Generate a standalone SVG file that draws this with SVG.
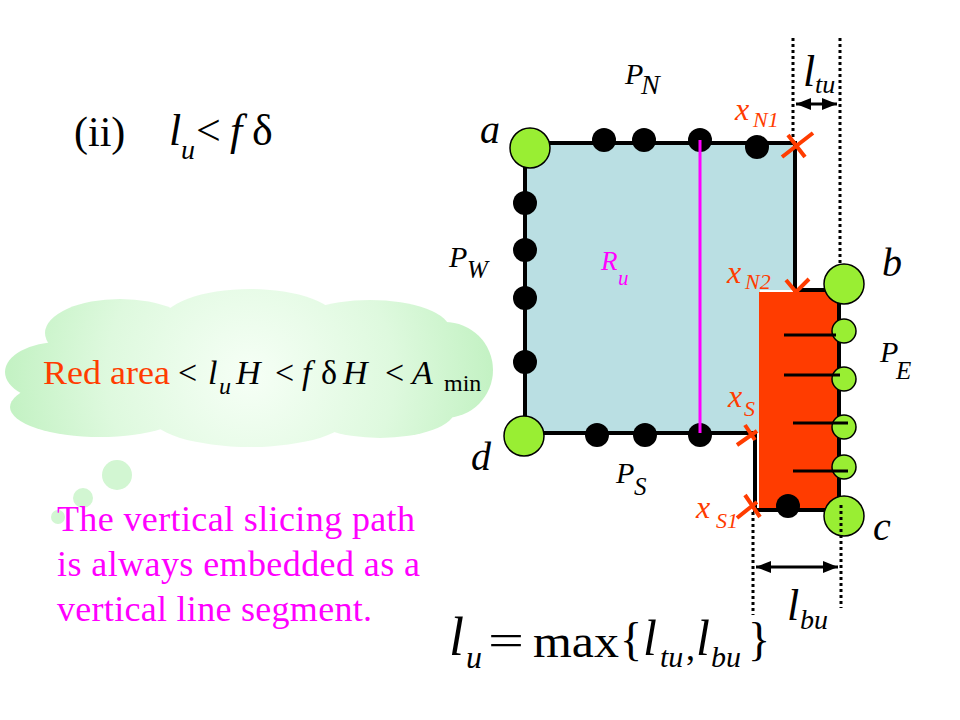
<svg xmlns="http://www.w3.org/2000/svg" width="960" height="720" viewBox="0 0 960 720">
<defs>
<radialGradient id="cloudG" gradientUnits="userSpaceOnUse" cx="250" cy="375" r="240">
<stop offset="0" stop-color="#f6fff6"/>
<stop offset="0.6" stop-color="#def9de"/>
<stop offset="1" stop-color="#c4f2c4"/>
</radialGradient>
<marker id="ah" viewBox="0 0 10 10" refX="10" refY="5" markerWidth="5" markerHeight="5" orient="auto-start-reverse">
<path d="M0,1 L10,5 L0,9 Z" fill="#000"/>
</marker>
<style>
.t{font-family:"Liberation Serif","Times New Roman",serif;fill:#000}
.i{font-style:italic}
.red{fill:#ff3c00}
.mag{fill:#ff00ff}
.dot{fill:#000}
.grn{fill:#99ee33;stroke:#000;stroke-width:1.5}
.dash{stroke:#000;stroke-width:3;stroke-dasharray:3 3;fill:none}
.cross{stroke:#ff3c00;stroke-width:4;fill:none}
.bar{stroke:#000;stroke-width:3}
</style>
</defs>
<rect width="960" height="720" fill="#fff"/>

<g id="title">
<text class="t" x="74" y="146" font-size="42">(ii)</text>
<text class="t i" x="169" y="145" font-size="44">l</text>
<text class="t i" x="181" y="159" font-size="28">u</text>
<text class="t" x="196" y="145" font-size="44">&lt;</text>
<text class="t i" x="230" y="145" font-size="44">f</text>
<text class="t" x="252" y="145" font-size="44">δ</text>
</g>

<g id="cloud">
<g fill="url(#cloudG)">
<ellipse cx="120" cy="333" rx="75" ry="34"/>
<ellipse cx="250" cy="322" rx="88" ry="33"/>
<ellipse cx="370" cy="330" rx="80" ry="30"/>
<ellipse cx="445" cy="370" rx="48" ry="48"/>
<ellipse cx="60" cy="372" rx="55" ry="30"/>
<ellipse cx="100" cy="407" rx="90" ry="30"/>
<ellipse cx="250" cy="415" rx="100" ry="32"/>
<ellipse cx="380" cy="410" rx="75" ry="28"/>
<ellipse cx="250" cy="370" rx="200" ry="52"/>
</g>
<circle cx="117" cy="475" r="15" fill="#d2f6d2"/>
<circle cx="83" cy="498" r="10" fill="#d2f6d2"/>
<circle cx="58" cy="517" r="7" fill="#d2f6d2"/>
<text class="t" font-size="34" y="384"><tspan x="43" class="red" textLength="127" lengthAdjust="spacingAndGlyphs">Red area</tspan><tspan x="178">&lt;</tspan><tspan x="208" class="i">l</tspan><tspan x="219" y="394" font-size="24" class="i">u</tspan><tspan x="236" y="384" class="i">H</tspan><tspan x="275">&lt;</tspan><tspan x="302" class="i">f</tspan><tspan x="321">δ</tspan><tspan x="343" class="i">H</tspan><tspan x="385">&lt;</tspan><tspan x="412" class="i">A</tspan><tspan x="444" y="391" font-size="24">min</tspan></text>
</g>

<g id="note">
<text class="t mag" x="57" y="531" font-size="36" textLength="358" lengthAdjust="spacing">The vertical slicing path</text>
<text class="t mag" x="57" y="576" font-size="36" textLength="363" lengthAdjust="spacing">is always embedded as a</text>
<text class="t mag" x="57" y="621" font-size="36" textLength="315" lengthAdjust="spacing">vertical line segment.</text>
</g>

<g id="formula">
<text class="t i" x="449" y="655" font-size="54">l</text>
<text class="t i" x="466" y="668" font-size="32">u</text>
<text class="t" x="488" y="655" font-size="44" textLength="36" lengthAdjust="spacingAndGlyphs">=</text>
<text class="t" x="533" y="657" font-size="46" textLength="86" lengthAdjust="spacingAndGlyphs">max</text>
<text class="t" x="620" y="655" font-size="46">{</text>
<text class="t i" x="643" y="655" font-size="50">l</text>
<text class="t i" x="660" y="667" font-size="30">tu</text>
<text class="t" x="686" y="660" font-size="36">,</text>
<text class="t i" x="696" y="655" font-size="50">l</text>
<text class="t i" x="711" y="667" font-size="30">bu</text>
<text class="t" x="748" y="655" font-size="46">}</text>
</g>

<g id="region-Ru">
<polygon points="525,143 795,143 795,290 760,290 760,433 525,433" fill="#badfe3"/>
</g>
<g id="red-area">
<rect x="759" y="292" width="78" height="216" fill="#ff3c00"/>
</g>
<g id="outline">
<polygon points="525,143 795,143 795,290 839,290 839,510 755,510 755,433 525,433" fill="none" stroke="#000" stroke-width="4"/>
</g>

<g id="connectors">
<line class="dash" x1="793" y1="38" x2="793" y2="142"/>
<line class="dash" x1="840" y1="38" x2="840" y2="264"/>
<line class="dash" x1="841" y1="505" x2="841" y2="608"/>
<line class="dash" x1="753" y1="512" x2="753" y2="615"/>
<line x1="796" y1="104" x2="837" y2="104" stroke="#000" stroke-width="3" marker-start="url(#ah)" marker-end="url(#ah)"/>
<line x1="756" y1="567" x2="838" y2="567" stroke="#000" stroke-width="3" marker-start="url(#ah)" marker-end="url(#ah)"/>
</g>

<g id="pins">
<circle class="dot" cx="604" cy="140" r="12"/>
<circle class="dot" cx="644" cy="140" r="12"/>
<circle class="dot" cx="700" cy="140" r="12"/>
<circle class="dot" cx="757" cy="147" r="12"/>
<circle class="dot" cx="525" cy="203" r="12"/>
<circle class="dot" cx="525" cy="250" r="12"/>
<circle class="dot" cx="525" cy="298" r="12"/>
<circle class="dot" cx="525" cy="362" r="12"/>
<circle class="dot" cx="597" cy="435" r="12"/>
<circle class="dot" cx="645" cy="435" r="12"/>
<circle class="dot" cx="700" cy="435" r="12"/>
<circle class="dot" cx="788" cy="506" r="12"/>
<circle class="grn" cx="844" cy="331" r="12"/>
<circle class="grn" cx="844" cy="379" r="12"/>
<circle class="grn" cx="844" cy="427" r="12"/>
<circle class="grn" cx="844" cy="467" r="12"/>
<line class="bar" x1="784" y1="335" x2="836" y2="335"/>
<line class="bar" x1="784" y1="375" x2="840" y2="375"/>
<line class="bar" x1="793" y1="423" x2="848" y2="423"/>
<line class="bar" x1="793" y1="471" x2="848" y2="471"/>
<circle class="grn" cx="530" cy="148" r="20"/>
<circle class="grn" cx="844" cy="284" r="20"/>
<circle class="grn" cx="844" cy="516" r="20"/>
<circle class="grn" cx="524" cy="436" r="20"/>
<line class="dash" x1="841" y1="505" x2="841" y2="536"/>
</g>

<g id="slice">
<line x1="700" y1="140" x2="700" y2="433" stroke="#ff00ff" stroke-width="3"/>
</g>

<g id="crosses">
<path class="cross" d="M782,157 L813,133 M788,135 L805,157"/>
<path class="cross" d="M786,280 L796,292 L809,279"/>
<path class="cross" d="M737,445 L757,431 M745,425 L755,440"/>
<path class="cross" d="M737,518 L757,502 M745,495 L760,517"/>
</g>

<g id="labels">
<text class="t i" x="625" y="84" font-size="30">P</text>
<text class="t i" x="641" y="94" font-size="28">N</text>
<text class="t i" x="803" y="86" font-size="44">l</text>
<text class="t i" x="815" y="93" font-size="26">tu</text>
<text class="t i red" x="735" y="120" font-size="32">x</text>
<text class="t i red" x="753" y="127" font-size="22">N1</text>
<text class="t i" x="480" y="143" font-size="40">a</text>
<text class="t i" x="449" y="267" font-size="30">P</text>
<text class="t i" x="467" y="278" font-size="25">W</text>
<text class="t i mag" x="601" y="270" font-size="27">R</text>
<text class="t i mag" x="618" y="285" font-size="21">u</text>
<text class="t i red" x="727" y="283" font-size="32">x</text>
<text class="t i red" x="745" y="289" font-size="22">N2</text>
<text class="t i" x="882" y="276" font-size="40">b</text>
<text class="t i" x="880" y="362" font-size="30">P</text>
<text class="t i" x="896" y="379" font-size="25">E</text>
<text class="t i red" x="728" y="407" font-size="32">x</text>
<text class="t i red" x="744" y="416" font-size="22">S</text>
<text class="t i" x="471" y="470" font-size="40">d</text>
<text class="t i" x="616" y="483" font-size="30">P</text>
<text class="t i" x="634" y="495" font-size="25">S</text>
<text class="t i red" x="696" y="518" font-size="32">x</text>
<text class="t i red" x="716" y="528" font-size="22">S1</text>
<text class="t i" x="873" y="540" font-size="40">c</text>
<text class="t i" x="787" y="620" font-size="44">l</text>
<text class="t i" x="800" y="629" font-size="28">bu</text>
</g>
</svg>
